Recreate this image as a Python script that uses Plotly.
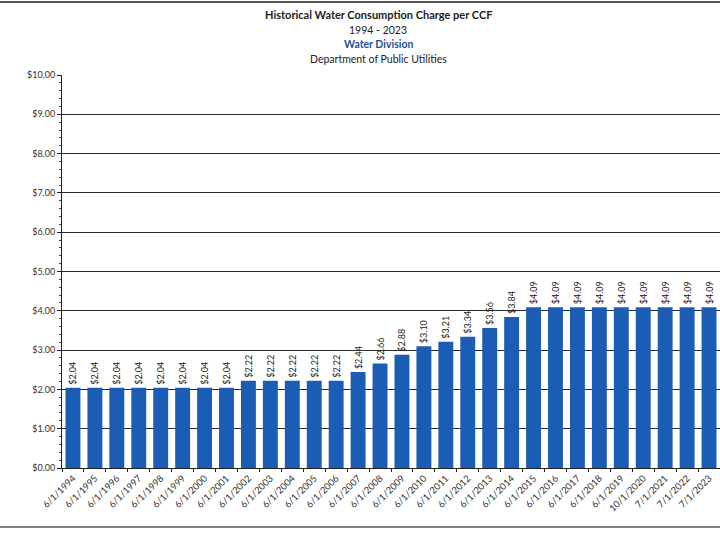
import plotly.graph_objects as go

# Effective dates of each rate change
dates = [
    "6/1/1994", "6/1/1995", "6/1/1996", "6/1/1997", "6/1/1998", "6/1/1999",
    "6/1/2000", "6/1/2001", "6/1/2002", "6/1/2003", "6/1/2004", "6/1/2005",
    "6/1/2006", "6/1/2007", "6/1/2008", "6/1/2009", "6/1/2010", "6/1/2011",
    "6/1/2012", "6/1/2013", "6/1/2014", "6/1/2015", "6/1/2016", "6/1/2017",
    "6/1/2018", "6/1/2019", "10/1/2020", "7/1/2021", "7/1/2022", "7/1/2023",
]

# Consumption charge, dollars per CCF
charge = [
    2.04, 2.04, 2.04, 2.04, 2.04, 2.04, 2.04, 2.04,
    2.22, 2.22, 2.22, 2.22, 2.22,
    2.44, 2.66, 2.88, 3.10, 3.21, 3.34, 3.56, 3.84,
    4.09, 4.09, 4.09, 4.09, 4.09, 4.09, 4.09, 4.09, 4.09,
]

y_ticks = [i for i in range(0, 11)]
y_tick_text = [f"${v:.2f}" for v in y_ticks]

FONT = "Lato, 'Open Sans', sans-serif"
BLUE = "#1b5cb5"

fig = go.Figure(
    go.Bar(
        x=dates,
        y=charge,
        marker=dict(color=BLUE, line=dict(width=0)),
        text=[f"${v:.2f}" for v in charge],
        textposition="outside",
        textangle=-90,
        textfont=dict(family=FONT, size=9, color="#222222"),
        cliponaxis=False,
        hoverinfo="x+y",
    )
)

fig.update_layout(
    width=720,
    height=534,
    margin=dict(l=62, r=0, t=75, b=66),
    paper_bgcolor="white",
    plot_bgcolor="white",
    bargap=0.32,
    showlegend=False,
    font=dict(family=FONT, color="#222222"),
    uniformtext=dict(minsize=8, mode="show"),
)

fig.update_yaxes(
    range=[0, 10],
    tickvals=y_ticks,
    ticktext=y_tick_text,
    tickfont=dict(family=FONT, size=9, color="#333333"),
    showgrid=True,
    gridcolor="#2a2a2a",
    gridwidth=1,
    showline=True,
    linecolor="#222222",
    linewidth=1,
    ticks="outside",
    ticklen=4,
    tickcolor="#222222",
    minor=dict(dtick=0.2, ticks="outside", ticklen=2, tickcolor="#444444", showgrid=False),
    zeroline=False,
)

fig.update_xaxes(
    type="category",
    tickangle=-45,
    tickfont=dict(family=FONT, size=9.5, color="#333333"),
    showline=True,
    linecolor="#222222",
    linewidth=1,
    ticks="outside",
    ticklen=3,
    tickcolor="#222222",
    tickson="boundaries",
)

# Heading block above the plot
headings = [
    ("Historical Water Consumption Charge per CCF", 15, "#222222", True, 11),
    ("1994 - 2023", 30, "#222222", False, 10.5),
    ("Water Division", 44, "#1f4e9c", True, 10.5),
    ("Department of Public Utilities", 59, "#222222", False, 10.5),
]
for text, ypix, color, bold, size in headings:
    fig.add_annotation(
        text=f"<b>{text}</b>" if bold else text,
        xref="paper", yref="paper",
        x=(378 - 62) / 658,
        y=1 + (75 - ypix) / 393,
        xanchor="center", yanchor="middle",
        showarrow=False,
        font=dict(family=FONT, size=size, color=color),
    )

# Page rules above and below the chart
for ypix, w in [(2, 2), (527, 1.5)]:
    fig.add_shape(
        type="line", xref="paper", yref="paper",
        x0=-62 / 658, x1=1.0,
        y0=(534 - 66 - ypix) / 393, y1=(534 - 66 - ypix) / 393,
        line=dict(color="#555555", width=w),
    )

fig.write_html("out.html")
